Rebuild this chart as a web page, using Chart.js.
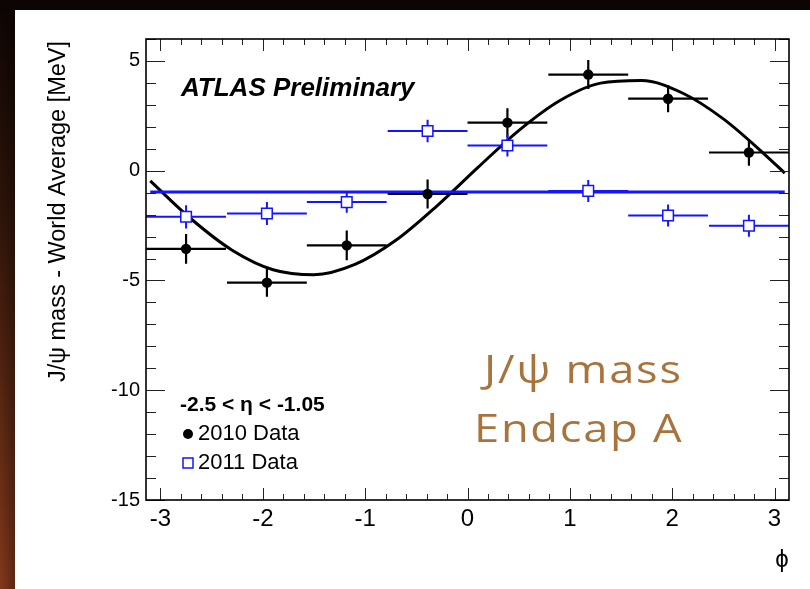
<!DOCTYPE html>
<html>
<head>
<meta charset="utf-8">
<script src="https://cdn.jsdelivr.net/npm/chart.js@4.4.1/dist/chart.umd.min.js"></script>
<style>
  html, body { margin: 0; padding: 0; background: #0d0503; overflow: hidden; }
  #wrap { width: 810px; height: 589px; }
  canvas { display: block; }
</style>
</head>
<body>
<div id="wrap"><canvas id="c" width="810" height="589"></canvas></div>
<script>
// J/psi mass shift vs phi, endcap A (-2.5 < eta < -1.05)
const phiCenters   = [-2.75, -1.96, -1.18, -0.39, 0.39, 1.18, 1.96, 2.75];
const phiHalfWidth = [0.39, 0.39, 0.39, 0.39, 0.39, 0.39, 0.39, 0.39];

const mass2010 = [-3.56, -5.10, -3.40, -1.06, 2.19, 4.38, 3.28, 0.83];
const err2010  = [0.68, 0.64, 0.68, 0.66, 0.66, 0.66, 0.62, 0.60];

const mass2011 = [-2.10, -1.95, -1.43, 1.81, 1.15, -0.92, -2.04, -2.51];
const err2011  = [0.53, 0.52, 0.48, 0.51, 0.50, 0.50, 0.50, 0.50];

// sinusoidal fit to 2010 data
const fit2010Phi = [-3.10, -2.70, -2.30, -1.90, -1.50, -1.10, -0.70, -0.30, 0.10, 0.50, 0.90, 1.30, 1.70, 2.10, 2.50, 2.90, 3.10];
const fit2010    = [-0.46, -2.20, -3.62, -4.51, -4.74, -4.27, -3.17, -1.61, 0.14, 1.83, 3.19, 3.99, 4.11, 3.54, 2.36, 0.76, -0.11];

// flat fit to 2011 data
const fit2011Phi = [-3.10, 3.10];
const fit2011    = [-0.97, -0.97];

const xTickValues = [-3, -2, -1, 0, 1, 2, 3];
const yTickValues = [-15, -10, -5, 0, 5];

const FONT = '"Liberation Sans", Arial, Helvetica, "DejaVu Sans", sans-serif';
const BLUE = '#1414ff';

const pts = (xs, ys) => xs.map((x, i) => ({ x: x, y: ys[i] }));

// page background: dark frame with a warm strip on the left, white panel
const backdrop = {
  id: 'backdrop',
  beforeDraw(chart) {
    const ctx = chart.ctx;
    ctx.save();
    ctx.fillStyle = '#0d0503';
    ctx.fillRect(0, 0, 810, 589);
    const g = ctx.createLinearGradient(0, 0, 0, 589);
    g.addColorStop(0, '#0d0503');
    g.addColorStop(0.35, '#2e1409');
    g.addColorStop(1, '#83391b');
    ctx.fillStyle = g;
    ctx.fillRect(0, 10, 15, 579);
    const h = ctx.createLinearGradient(0, 0, 15, 0);
    h.addColorStop(0, 'rgba(0,0,0,0)');
    h.addColorStop(1, 'rgba(0,0,0,0.3)');
    ctx.fillStyle = h;
    ctx.fillRect(0, 10, 15, 579);
    ctx.fillStyle = '#ffffff';
    ctx.fillRect(15, 10, 795, 579);
    ctx.restore();
  }
};

// error bars drawn under the markers of each data set
const errorBars = {
  id: 'errorBars',
  beforeDatasetDraw(chart, args) {
    const ds = chart.data.datasets[args.index];
    if (!ds.errY) return;
    const xs = chart.scales.x, ys = chart.scales.y, ctx = chart.ctx;
    ctx.save();
    ctx.strokeStyle = ds.barColor;
    ctx.lineWidth = ds.barWidth;
    ds.data.forEach((p, i) => {
      const cx = xs.getPixelForValue(p.x), cy = ys.getPixelForValue(p.y);
      ctx.beginPath();
      ctx.moveTo(xs.getPixelForValue(p.x - ds.errX[i]), cy);
      ctx.lineTo(xs.getPixelForValue(p.x + ds.errX[i]), cy);
      ctx.moveTo(cx, ys.getPixelForValue(p.y - ds.errY[i]));
      ctx.lineTo(cx, ys.getPixelForValue(p.y + ds.errY[i]));
      ctx.stroke();
    });
    ctx.restore();
  }
};

// ROOT-style frame with inward ticks on all four sides, plus labels
const frameAndText = {
  id: 'frameAndText',
  afterDraw(chart) {
    const ctx = chart.ctx, a = chart.chartArea;
    const xs = chart.scales.x, ys = chart.scales.y;
    ctx.save();
    ctx.strokeStyle = '#222';
    ctx.lineWidth = 1;
    ctx.beginPath();
    for (let v = -3.2; v <= 3.2 + 1e-9; v += 0.2) {
      const val = Math.round(v * 10) / 10;
      if (val < xs.min || val > xs.max) continue;
      const px = Math.round(xs.getPixelForValue(val)) + 0.5;
      const major = Math.abs(val - Math.round(val)) < 1e-6;
      const len = major ? 12 : 6;
      ctx.moveTo(px, a.bottom); ctx.lineTo(px, a.bottom - len);
      ctx.moveTo(px, a.top); ctx.lineTo(px, a.top + len);
    }
    for (let v = -15; v <= 6; v += 1) {
      const py = Math.round(ys.getPixelForValue(v)) + 0.5;
      const len = (v % 5 === 0) ? 19 : 10;
      ctx.moveTo(a.left, py); ctx.lineTo(a.left + len, py);
      ctx.moveTo(a.right, py); ctx.lineTo(a.right - len, py);
    }
    ctx.stroke();

    ctx.strokeStyle = '#000';
    ctx.lineWidth = 1.6;
    ctx.strokeRect(a.left, a.top, a.right - a.left, a.bottom - a.top);

    // axis titles
    ctx.fillStyle = '#000';
    ctx.font = '24px ' + FONT;
    ctx.textAlign = 'center';
    ctx.textBaseline = 'alphabetic';
    ctx.fillText('\u03d5', 782, 567);

    ctx.font = '23.5px ' + FONT;
    ctx.save();
    ctx.translate(65, 41);
    ctx.rotate(-Math.PI / 2);
    ctx.textAlign = 'right';
    ctx.fillText('J/\u03c8 mass - World Average [MeV]', 0, 0);
    ctx.restore();

    // experiment label
    ctx.textAlign = 'left';
    ctx.font = 'italic bold 26px ' + FONT;
    ctx.fillText('ATLAS Preliminary', 181, 96);

    // legend
    ctx.font = 'bold 21px ' + FONT;
    ctx.textBaseline = 'middle';
    ctx.fillText('-2.5 < \u03b7 < -1.05', 180, 405);
    ctx.font = '22px ' + FONT;
    ctx.fillText('2010 Data', 198, 434);
    ctx.fillText('2011 Data', 198, 463);
    ctx.beginPath();
    ctx.arc(188, 434, 5, 0, Math.PI * 2);
    ctx.fill();
    ctx.strokeStyle = BLUE;
    ctx.lineWidth = 1.5;
    ctx.strokeRect(183, 458, 10, 10);

    // region caption (wide lettering)
    ctx.fillStyle = '#a8743d';
    ctx.font = '500 39px "Open Sans", sans-serif';
    ctx.textBaseline = 'alphabetic';
    if ('letterSpacing' in ctx) ctx.letterSpacing = '1.5px';
    ctx.save();
    ctx.translate(484, 383);
    ctx.scale(1.16, 1);
    ctx.fillText('J/\u03c8 mass', 0, 0);
    ctx.restore();
    ctx.save();
    ctx.translate(474, 442);
    ctx.scale(1.16, 1);
    ctx.fillText('Endcap A', 0, 0);
    ctx.restore();
    if ('letterSpacing' in ctx) ctx.letterSpacing = '0px';
    ctx.restore();
  }
};

const hiddenGrid = { display: true, drawOnChartArea: false, drawTicks: false, color: 'rgba(0,0,0,0)' };

new Chart(document.getElementById('c'), {
  type: 'scatter',
  data: {
    datasets: [
      {
        label: '2011 Data',
        data: pts(phiCenters, mass2011),
        errX: phiHalfWidth, errY: err2011,
        barColor: BLUE, barWidth: 2,
        pointStyle: 'rect', pointRadius: 7.5,
        backgroundColor: '#ffffff', borderColor: BLUE, borderWidth: 1.5,
        order: 0
      },
      {
        label: '2010 Data',
        data: pts(phiCenters, mass2010),
        errX: phiHalfWidth, errY: err2010,
        barColor: '#000', barWidth: 2.2,
        pointStyle: 'circle', pointRadius: 5.2,
        backgroundColor: '#000', borderColor: '#000', borderWidth: 0,
        order: 1
      },
      {
        label: 'fit 2011',
        data: pts(fit2011Phi, fit2011),
        showLine: true, pointRadius: 0,
        borderColor: BLUE, borderWidth: 3,
        order: 2
      },
      {
        label: 'fit 2010',
        data: pts(fit2010Phi, fit2010),
        showLine: true, pointRadius: 0,
        cubicInterpolationMode: 'monotone',
        borderColor: '#000', borderWidth: 3,
        order: 3
      }
    ]
  },
  options: {
    responsive: false,
    animation: false,
    events: [],
    layout: { padding: { left: 0, top: 39, right: 21, bottom: 0 } },
    plugins: { legend: { display: false }, tooltip: { enabled: false } },
    scales: {
      x: {
        type: 'linear', min: -Math.PI, max: Math.PI,
        grid: hiddenGrid, border: { display: false },
        afterBuildTicks: s => { s.ticks = xTickValues.map(v => ({ value: v })); },
        afterFit: s => { s.height = 89; },
        ticks: { color: '#000', padding: 5, font: { family: FONT, size: 24 }, maxRotation: 0,
                 callback: v => String(v) }
      },
      y: {
        type: 'linear', min: -15, max: 6,
        grid: hiddenGrid, border: { display: false },
        afterBuildTicks: s => { s.ticks = yTickValues.map(v => ({ value: v })); },
        afterFit: s => { s.width = 146; },
        ticks: { color: '#000', padding: 6, font: { family: FONT, size: 20 },
                 callback: v => String(v) }
      }
    }
  },
  plugins: [backdrop, errorBars, frameAndText]
});
</script>
</body>
</html>
